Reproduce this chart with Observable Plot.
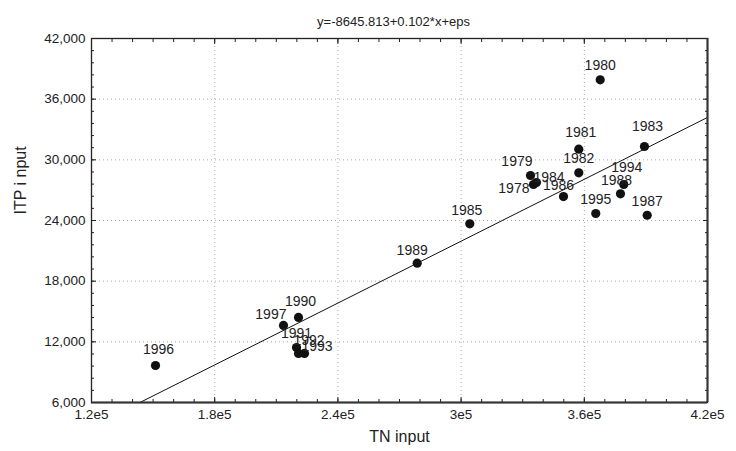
<!DOCTYPE html>
<html>
<head>
<meta charset="utf-8">
<script src="https://cdn.jsdelivr.net/npm/d3@7"></script>
<script src="https://cdn.jsdelivr.net/npm/@observablehq/plot@0.6"></script>
<style>
  body { margin: 0; background: #fff; }
  #chart svg { display: block; }
</style>
</head>
<body>
<div id="chart"></div>
<script>
// ---- Data ----
const years    = [1978, 1979, 1980, 1981, 1982, 1983, 1984, 1985, 1986, 1987,
                  1988, 1989, 1990, 1991, 1992, 1993, 1994, 1995, 1996, 1997];
const tnInput  = [335250, 333800, 367740, 357310, 357310, 389300, 336700, 304230, 349860, 390630,
                  377620, 278620, 220810, 219840, 220810, 223730, 379230, 365590, 151170, 213500];
const itpInput = [27560, 28450, 37915, 31050, 28720, 31320, 27760, 23670, 26370, 24520,
                  26640, 19780, 14410, 11440, 10850, 10850, 27560, 24690, 9660, 13620];
const intercept = -8645.813;
const slope = 0.102;
const xTicks = [120000, 180000, 240000, 300000, 360000, 420000];
const yTicks = [6000, 12000, 18000, 24000, 30000, 36000, 42000];
const titleText = "y=-8645.813+0.102*x+eps";
const xLabel = "TN input";
const yLabel = "ITP i nput";

// ---- Build ----
const points = years.map((year, i) => ({year, x: tnInput[i], y: itpInput[i]}));
const xDomain = [xTicks[0], xTicks[xTicks.length - 1]];
const yDomain = [yTicks[0], yTicks[yTicks.length - 1]];
const fitLine = xDomain.map(x => ({x, y: intercept + slope * x}));
const xMinor = d3.range(xDomain[0], xDomain[1] + 1, 10000);
const yMinor = d3.range(yDomain[0], yDomain[1] + 1, 1200);

const font = "'Liberation Sans', Arial, sans-serif";

// label placement (avoiding overlaps, as in the original)
const labelStyle = {
  default: {textAnchor: "middle", dx: 0, dy: -14},
  1978: {textAnchor: "end", dx: -4, dy: 4},
  1979: {textAnchor: "end", dx: 2, dy: -14},
  1997: {textAnchor: "end", dx: 3, dy: -11},
  1984: {textAnchor: "start", dx: -3, dy: -5},
  1993: {textAnchor: "start", dx: -3, dy: -7},
  1992: {textAnchor: "start", dx: -5, dy: -13},
  1983: {textAnchor: "middle", dx: 3, dy: -20},
  1981: {textAnchor: "middle", dx: 2, dy: -17},
  1994: {textAnchor: "middle", dx: 3, dy: -17},
  1986: {textAnchor: "middle", dx: -5, dy: -11},
  1988: {textAnchor: "middle", dx: -4, dy: -13},
  1985: {textAnchor: "middle", dx: -3, dy: -13},
  1989: {textAnchor: "middle", dx: -5, dy: -13},
  1990: {textAnchor: "middle", dx: 2, dy: -16},
  1996: {textAnchor: "middle", dx: 3, dy: -16}
};
const styleKey = y => (labelStyle[y] ? String(y) : "default");
const groups = d3.group(points, d => styleKey(d.year));
const labelMarks = [...groups].map(([key, rows]) =>
  Plot.text(rows, {
    x: "x", y: "y", text: d => String(d.year),
    ...labelStyle[key],
    fontSize: 14, fill: "#222", fontFamily: font
  })
);

const chart = Plot.plot({
  width: 736,
  height: 451,
  marginLeft: 91,
  marginRight: 29,
  marginTop: 38,
  marginBottom: 49,
  style: {fontFamily: font, fontSize: "13px", color: "#222", background: "#fff"},
  x: {domain: xDomain},
  y: {domain: yDomain},
  marks: [
    // dotted grid at major ticks
    Plot.gridX(xTicks, {stroke: "#aaa", strokeOpacity: 1, strokeDasharray: "1,3"}),
    Plot.gridY(yTicks, {stroke: "#aaa", strokeOpacity: 1, strokeDasharray: "1,3"}),
    // tick labels
    Plot.axisX(xTicks, {anchor: "bottom", tickSize: 0, tickPadding: 7,
      tickFormat: d => String(+(d / 1e5).toFixed(1)) + "e5", fontSize: 13.5, label: null}),
    Plot.axisY(yTicks, {anchor: "left", tickSize: 0, tickPadding: 6,
      tickFormat: d3.format(","), fontSize: 13.5, label: null}),
    // inward ticks, all four sides
    Plot.axisX(xMinor, {anchor: "bottom", tickSize: -3, text: null, label: null}),
    Plot.axisX(xMinor, {anchor: "top", tickSize: -3, text: null, label: null}),
    Plot.axisY(yMinor, {anchor: "left", tickSize: -3, text: null, label: null}),
    Plot.axisY(yMinor, {anchor: "right", tickSize: -3, text: null, label: null}),
    Plot.axisX(xTicks, {anchor: "bottom", tickSize: -5, text: null, label: null}),
    Plot.axisX(xTicks, {anchor: "top", tickSize: -5, text: null, label: null}),
    Plot.axisY(yTicks, {anchor: "left", tickSize: -5, text: null, label: null}),
    Plot.axisY(yTicks, {anchor: "right", tickSize: -5, text: null, label: null}),
    // regression line
    Plot.line(fitLine, {x: "x", y: "y", stroke: "#111", strokeWidth: 1, clip: true}),
    // points
    Plot.dot(points, {x: "x", y: "y", r: 4.6, fill: "#111", stroke: "none"}),
    ...labelMarks,
    // frame
    Plot.frame({stroke: "#222", strokeWidth: 1.3}),
    Plot.ruleX([xDomain[1]], {stroke: "#333", strokeWidth: 2}),
    Plot.ruleY([yDomain[0]], {stroke: "#333", strokeWidth: 2}),
    // title and axis titles
    Plot.text([titleText], {frameAnchor: "top", dx: -6, dy: -22, text: d => d,
      fontSize: 13, fill: "#222"}),
    Plot.text([xLabel], {frameAnchor: "bottom", dy: 39, text: d => d,
      fontSize: 16, fill: "#222"}),
    Plot.text([yLabel], {frameAnchor: "left", dx: -71, dy: -6, rotate: -90, text: d => d,
      fontSize: 16, fill: "#222"})
  ]
});
document.getElementById("chart").appendChild(chart);
</script>
</body>
</html>
